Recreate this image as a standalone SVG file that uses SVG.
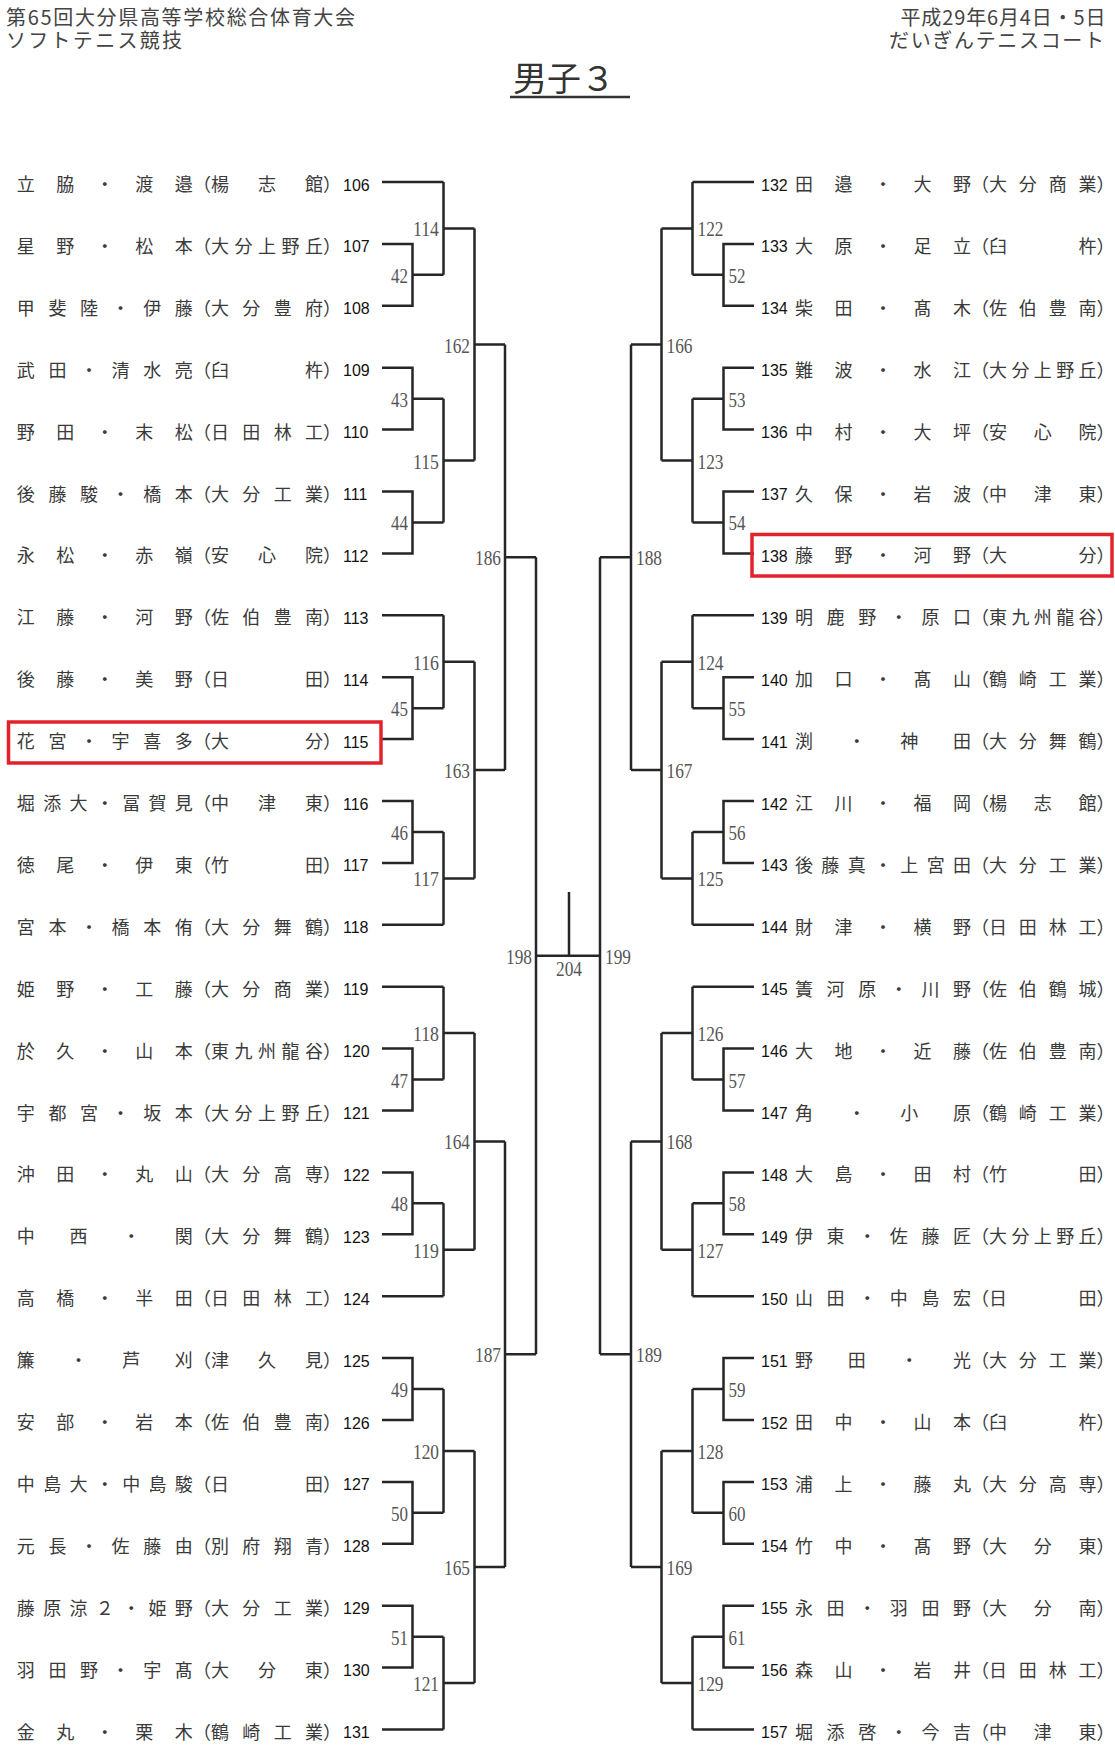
<svg xmlns="http://www.w3.org/2000/svg" width="1115" height="1751" viewBox="0 0 1115 1751">
<style>
.n{font-family:"Noto Sans CJK JP",sans-serif;font-size:18px;fill:#3a3a3a}
.s{font-family:"Liberation Sans",Arial,sans-serif;font-size:16px;fill:#111}
.l{font-family:"Liberation Serif","Times New Roman",serif;font-size:20px;fill:#555}
.le{text-anchor:end}
.h{font-family:"Noto Sans CJK JP",sans-serif;font-size:20px;fill:#444}
.c path{fill:none;stroke:#262626;stroke-width:2.5}
.box{fill:none;stroke:#e3232b;stroke-width:3.5}
</style>
<rect width="1115" height="1751" fill="#fff"/>
<g id="header">
<text class="h" x="6" y="25" textLength="349">第65回大分県高等学校総合体育大会</text>
<text class="h" x="6" y="47.5" textLength="176">ソフトテニス競技</text>
<text class="h" x="900.5" y="25" textLength="205">平成29年6月4日・5日</text>
<text class="h" x="889" y="47.5" textLength="215">だいぎんテニスコート</text>
<text class="h" x="513" y="91" style="font-size:34px;fill:#333">男子３</text>
<path d="M510 97H630" stroke="#333" stroke-width="2.5"/>
</g>
<g id="connectors" class="c">
<path d="M382 182H443.5"/>
<path d="M382 243.9H412.5V305.8H382M412.5 274.85H443.5"/>
<path d="M443.5 182V274.85M443.5 228.4H474.5"/>
<path d="M382 367.7H412.5V429.6H382M412.5 398.65H443.5"/>
<path d="M382 491.5H412.5V553.4H382M412.5 522.45H443.5"/>
<path d="M443.5 398.65V522.45M443.5 460.55H474.5"/>
<path d="M474.5 228.4V460.55M474.5 344.5H505"/>
<path d="M382 615.3H443.5"/>
<path d="M382 677.2H412.5V739.1H382M412.5 708.15H443.5"/>
<path d="M443.5 615.3V708.15M443.5 661.7H474.5"/>
<path d="M382 801H412.5V862.9H382M412.5 831.95H443.5"/>
<path d="M382 924.8H443.5"/>
<path d="M443.5 831.95V924.8M443.5 878.4H474.5"/>
<path d="M474.5 661.7V878.4M474.5 770.05H505"/>
<path d="M505 344.5V770.05M505 557.3H536"/>
<path d="M382 986.7H443.5"/>
<path d="M382 1048.6H412.5V1110.5H382M412.5 1079.55H443.5"/>
<path d="M443.5 986.7V1079.55M443.5 1033.1H474.5"/>
<path d="M382 1172.4H412.5V1234.3H382M412.5 1203.35H443.5"/>
<path d="M382 1296.2H443.5"/>
<path d="M443.5 1203.35V1296.2M443.5 1249.8H474.5"/>
<path d="M474.5 1033.1V1249.8M474.5 1141.45H505"/>
<path d="M382 1358.1H412.5V1420H382M412.5 1389.05H443.5"/>
<path d="M382 1481.9H412.5V1543.8H382M412.5 1512.85H443.5"/>
<path d="M443.5 1389.05V1512.85M443.5 1450.95H474.5"/>
<path d="M382 1605.7H412.5V1667.6H382M412.5 1636.65H443.5"/>
<path d="M382 1729.5H443.5"/>
<path d="M443.5 1636.65V1729.5M443.5 1683.1H474.5"/>
<path d="M474.5 1450.95V1683.1M474.5 1567H505"/>
<path d="M505 1141.45V1567M505 1354.2H536"/>
<path d="M536 557.3V1354.2M536 955.75H569"/>
<path d="M754 182H692.5"/>
<path d="M754 243.9H723.5V305.8H754M723.5 274.85H692.5"/>
<path d="M692.5 182V274.85M692.5 228.4H661.5"/>
<path d="M754 367.7H723.5V429.6H754M723.5 398.65H692.5"/>
<path d="M754 491.5H723.5V553.4H754M723.5 522.45H692.5"/>
<path d="M692.5 398.65V522.45M692.5 460.55H661.5"/>
<path d="M661.5 228.4V460.55M661.5 344.5H631"/>
<path d="M754 615.3H692.5"/>
<path d="M754 677.2H723.5V739.1H754M723.5 708.15H692.5"/>
<path d="M692.5 615.3V708.15M692.5 661.7H661.5"/>
<path d="M754 801H723.5V862.9H754M723.5 831.95H692.5"/>
<path d="M754 924.8H692.5"/>
<path d="M692.5 831.95V924.8M692.5 878.4H661.5"/>
<path d="M661.5 661.7V878.4M661.5 770.05H631"/>
<path d="M631 344.5V770.05M631 557.3H600"/>
<path d="M754 986.7H692.5"/>
<path d="M754 1048.6H723.5V1110.5H754M723.5 1079.55H692.5"/>
<path d="M692.5 986.7V1079.55M692.5 1033.1H661.5"/>
<path d="M754 1172.4H723.5V1234.3H754M723.5 1203.35H692.5"/>
<path d="M754 1296.2H692.5"/>
<path d="M692.5 1203.35V1296.2M692.5 1249.8H661.5"/>
<path d="M661.5 1033.1V1249.8M661.5 1141.45H631"/>
<path d="M754 1358.1H723.5V1420H754M723.5 1389.05H692.5"/>
<path d="M754 1481.9H723.5V1543.8H754M723.5 1512.85H692.5"/>
<path d="M692.5 1389.05V1512.85M692.5 1450.95H661.5"/>
<path d="M754 1605.7H723.5V1667.6H754M723.5 1636.65H692.5"/>
<path d="M754 1729.5H692.5"/>
<path d="M692.5 1636.65V1729.5M692.5 1683.1H661.5"/>
<path d="M661.5 1450.95V1683.1M661.5 1567H631"/>
<path d="M631 1141.45V1567M631 1354.2H600"/>
<path d="M600 557.3V1354.2M600 955.75H569"/>
<path d="M569 955.75V892"/>
</g>
<g id="labels">
<text class="l le" x="408" y="282.85" textLength="17" lengthAdjust="spacingAndGlyphs">42</text>
<text class="l le" x="439" y="236.4" textLength="26" lengthAdjust="spacingAndGlyphs">114</text>
<text class="l le" x="408" y="406.65" textLength="17" lengthAdjust="spacingAndGlyphs">43</text>
<text class="l le" x="408" y="530.45" textLength="17" lengthAdjust="spacingAndGlyphs">44</text>
<text class="l le" x="439" y="468.55" textLength="26" lengthAdjust="spacingAndGlyphs">115</text>
<text class="l le" x="470" y="352.5" textLength="26" lengthAdjust="spacingAndGlyphs">162</text>
<text class="l le" x="408" y="716.15" textLength="17" lengthAdjust="spacingAndGlyphs">45</text>
<text class="l le" x="439" y="669.7" textLength="26" lengthAdjust="spacingAndGlyphs">116</text>
<text class="l le" x="408" y="839.95" textLength="17" lengthAdjust="spacingAndGlyphs">46</text>
<text class="l le" x="439" y="886.4" textLength="26" lengthAdjust="spacingAndGlyphs">117</text>
<text class="l le" x="470" y="778.05" textLength="26" lengthAdjust="spacingAndGlyphs">163</text>
<text class="l le" x="501" y="565.3" textLength="26" lengthAdjust="spacingAndGlyphs">186</text>
<text class="l le" x="408" y="1087.55" textLength="17" lengthAdjust="spacingAndGlyphs">47</text>
<text class="l le" x="439" y="1041.1" textLength="26" lengthAdjust="spacingAndGlyphs">118</text>
<text class="l le" x="408" y="1211.35" textLength="17" lengthAdjust="spacingAndGlyphs">48</text>
<text class="l le" x="439" y="1257.8" textLength="26" lengthAdjust="spacingAndGlyphs">119</text>
<text class="l le" x="470" y="1149.45" textLength="26" lengthAdjust="spacingAndGlyphs">164</text>
<text class="l le" x="408" y="1397.05" textLength="17" lengthAdjust="spacingAndGlyphs">49</text>
<text class="l le" x="408" y="1520.85" textLength="17" lengthAdjust="spacingAndGlyphs">50</text>
<text class="l le" x="439" y="1458.95" textLength="26" lengthAdjust="spacingAndGlyphs">120</text>
<text class="l le" x="408" y="1644.65" textLength="17" lengthAdjust="spacingAndGlyphs">51</text>
<text class="l le" x="439" y="1691.1" textLength="26" lengthAdjust="spacingAndGlyphs">121</text>
<text class="l le" x="470" y="1575" textLength="26" lengthAdjust="spacingAndGlyphs">165</text>
<text class="l le" x="501" y="1362.2" textLength="26" lengthAdjust="spacingAndGlyphs">187</text>
<text class="l le" x="532" y="963.75" textLength="26" lengthAdjust="spacingAndGlyphs">198</text>
<text class="l" x="728.5" y="282.85" textLength="17" lengthAdjust="spacingAndGlyphs">52</text>
<text class="l" x="697.5" y="236.4" textLength="26" lengthAdjust="spacingAndGlyphs">122</text>
<text class="l" x="728.5" y="406.65" textLength="17" lengthAdjust="spacingAndGlyphs">53</text>
<text class="l" x="728.5" y="530.45" textLength="17" lengthAdjust="spacingAndGlyphs">54</text>
<text class="l" x="697.5" y="468.55" textLength="26" lengthAdjust="spacingAndGlyphs">123</text>
<text class="l" x="666.5" y="352.5" textLength="26" lengthAdjust="spacingAndGlyphs">166</text>
<text class="l" x="728.5" y="716.15" textLength="17" lengthAdjust="spacingAndGlyphs">55</text>
<text class="l" x="697.5" y="669.7" textLength="26" lengthAdjust="spacingAndGlyphs">124</text>
<text class="l" x="728.5" y="839.95" textLength="17" lengthAdjust="spacingAndGlyphs">56</text>
<text class="l" x="697.5" y="886.4" textLength="26" lengthAdjust="spacingAndGlyphs">125</text>
<text class="l" x="666.5" y="778.05" textLength="26" lengthAdjust="spacingAndGlyphs">167</text>
<text class="l" x="636" y="565.3" textLength="26" lengthAdjust="spacingAndGlyphs">188</text>
<text class="l" x="728.5" y="1087.55" textLength="17" lengthAdjust="spacingAndGlyphs">57</text>
<text class="l" x="697.5" y="1041.1" textLength="26" lengthAdjust="spacingAndGlyphs">126</text>
<text class="l" x="728.5" y="1211.35" textLength="17" lengthAdjust="spacingAndGlyphs">58</text>
<text class="l" x="697.5" y="1257.8" textLength="26" lengthAdjust="spacingAndGlyphs">127</text>
<text class="l" x="666.5" y="1149.45" textLength="26" lengthAdjust="spacingAndGlyphs">168</text>
<text class="l" x="728.5" y="1397.05" textLength="17" lengthAdjust="spacingAndGlyphs">59</text>
<text class="l" x="728.5" y="1520.85" textLength="17" lengthAdjust="spacingAndGlyphs">60</text>
<text class="l" x="697.5" y="1458.95" textLength="26" lengthAdjust="spacingAndGlyphs">128</text>
<text class="l" x="728.5" y="1644.65" textLength="17" lengthAdjust="spacingAndGlyphs">61</text>
<text class="l" x="697.5" y="1691.1" textLength="26" lengthAdjust="spacingAndGlyphs">129</text>
<text class="l" x="666.5" y="1575" textLength="26" lengthAdjust="spacingAndGlyphs">169</text>
<text class="l" x="636" y="1362.2" textLength="26" lengthAdjust="spacingAndGlyphs">189</text>
<text class="l" x="605" y="963.75" textLength="26" lengthAdjust="spacingAndGlyphs">199</text>
<text class="l" x="556" y="976" textLength="26" lengthAdjust="spacingAndGlyphs">204</text>
</g>
<g id="p106" transform="translate(0,191)"><text class="n" x="16.8" textLength="176">立脇・渡邉</text><text class="n" x="193">（</text><text class="n" x="211" textLength="112">楊志館</text><text class="n" x="323">）</text><text class="s" x="343" y="-0.5">106</text></g>
<g id="p107" transform="translate(0,252.9)"><text class="n" x="16.8" textLength="176">星野・松本</text><text class="n" x="193">（</text><text class="n" x="211" textLength="112">大分上野丘</text><text class="n" x="323">）</text><text class="s" x="343" y="-0.5">107</text></g>
<g id="p108" transform="translate(0,314.8)"><text class="n" x="16.8" textLength="176">甲斐陸・伊藤</text><text class="n" x="193">（</text><text class="n" x="211" textLength="112">大分豊府</text><text class="n" x="323">）</text><text class="s" x="343" y="-0.5">108</text></g>
<g id="p109" transform="translate(0,376.7)"><text class="n" x="16.8" textLength="176">武田・清水亮</text><text class="n" x="193">（</text><text class="n" x="211" textLength="112">臼杵</text><text class="n" x="323">）</text><text class="s" x="343" y="-0.5">109</text></g>
<g id="p110" transform="translate(0,438.6)"><text class="n" x="16.8" textLength="176">野田・末松</text><text class="n" x="193">（</text><text class="n" x="211" textLength="112">日田林工</text><text class="n" x="323">）</text><text class="s" x="343" y="-0.5">110</text></g>
<g id="p111" transform="translate(0,500.5)"><text class="n" x="16.8" textLength="176">後藤駿・橋本</text><text class="n" x="193">（</text><text class="n" x="211" textLength="112">大分工業</text><text class="n" x="323">）</text><text class="s" x="343" y="-0.5">111</text></g>
<g id="p112" transform="translate(0,562.4)"><text class="n" x="16.8" textLength="176">永松・赤嶺</text><text class="n" x="193">（</text><text class="n" x="211" textLength="112">安心院</text><text class="n" x="323">）</text><text class="s" x="343" y="-0.5">112</text></g>
<g id="p113" transform="translate(0,624.3)"><text class="n" x="16.8" textLength="176">江藤・河野</text><text class="n" x="193">（</text><text class="n" x="211" textLength="112">佐伯豊南</text><text class="n" x="323">）</text><text class="s" x="343" y="-0.5">113</text></g>
<g id="p114" transform="translate(0,686.2)"><text class="n" x="16.8" textLength="176">後藤・美野</text><text class="n" x="193">（</text><text class="n" x="211" textLength="112">日田</text><text class="n" x="323">）</text><text class="s" x="343" y="-0.5">114</text></g>
<g id="p115" transform="translate(0,748.1)"><text class="n" x="16.8" textLength="176">花宮・宇喜多</text><text class="n" x="193">（</text><text class="n" x="211" textLength="112">大分</text><text class="n" x="323">）</text><text class="s" x="343" y="-0.5">115</text></g>
<g id="p116" transform="translate(0,810)"><text class="n" x="16.8" textLength="176">堀添大・冨賀見</text><text class="n" x="193">（</text><text class="n" x="211" textLength="112">中津東</text><text class="n" x="323">）</text><text class="s" x="343" y="-0.5">116</text></g>
<g id="p117" transform="translate(0,871.9)"><text class="n" x="16.8" textLength="176">徳尾・伊東</text><text class="n" x="193">（</text><text class="n" x="211" textLength="112">竹田</text><text class="n" x="323">）</text><text class="s" x="343" y="-0.5">117</text></g>
<g id="p118" transform="translate(0,933.8)"><text class="n" x="16.8" textLength="176">宮本・橋本侑</text><text class="n" x="193">（</text><text class="n" x="211" textLength="112">大分舞鶴</text><text class="n" x="323">）</text><text class="s" x="343" y="-0.5">118</text></g>
<g id="p119" transform="translate(0,995.7)"><text class="n" x="16.8" textLength="176">姫野・工藤</text><text class="n" x="193">（</text><text class="n" x="211" textLength="112">大分商業</text><text class="n" x="323">）</text><text class="s" x="343" y="-0.5">119</text></g>
<g id="p120" transform="translate(0,1057.6)"><text class="n" x="16.8" textLength="176">於久・山本</text><text class="n" x="193">（</text><text class="n" x="211" textLength="112">東九州龍谷</text><text class="n" x="323">）</text><text class="s" x="343" y="-0.5">120</text></g>
<g id="p121" transform="translate(0,1119.5)"><text class="n" x="16.8" textLength="176">宇都宮・坂本</text><text class="n" x="193">（</text><text class="n" x="211" textLength="112">大分上野丘</text><text class="n" x="323">）</text><text class="s" x="343" y="-0.5">121</text></g>
<g id="p122" transform="translate(0,1181.4)"><text class="n" x="16.8" textLength="176">沖田・丸山</text><text class="n" x="193">（</text><text class="n" x="211" textLength="112">大分高専</text><text class="n" x="323">）</text><text class="s" x="343" y="-0.5">122</text></g>
<g id="p123" transform="translate(0,1243.3)"><text class="n" x="16.8" textLength="176">中西・関</text><text class="n" x="193">（</text><text class="n" x="211" textLength="112">大分舞鶴</text><text class="n" x="323">）</text><text class="s" x="343" y="-0.5">123</text></g>
<g id="p124" transform="translate(0,1305.2)"><text class="n" x="16.8" textLength="176">高橋・半田</text><text class="n" x="193">（</text><text class="n" x="211" textLength="112">日田林工</text><text class="n" x="323">）</text><text class="s" x="343" y="-0.5">124</text></g>
<g id="p125" transform="translate(0,1367.1)"><text class="n" x="16.8" textLength="176">簾・芦刈</text><text class="n" x="193">（</text><text class="n" x="211" textLength="112">津久見</text><text class="n" x="323">）</text><text class="s" x="343" y="-0.5">125</text></g>
<g id="p126" transform="translate(0,1429)"><text class="n" x="16.8" textLength="176">安部・岩本</text><text class="n" x="193">（</text><text class="n" x="211" textLength="112">佐伯豊南</text><text class="n" x="323">）</text><text class="s" x="343" y="-0.5">126</text></g>
<g id="p127" transform="translate(0,1490.9)"><text class="n" x="16.8" textLength="176">中島大・中島駿</text><text class="n" x="193">（</text><text class="n" x="211" textLength="112">日田</text><text class="n" x="323">）</text><text class="s" x="343" y="-0.5">127</text></g>
<g id="p128" transform="translate(0,1552.8)"><text class="n" x="16.8" textLength="176">元長・佐藤由</text><text class="n" x="193">（</text><text class="n" x="211" textLength="112">別府翔青</text><text class="n" x="323">）</text><text class="s" x="343" y="-0.5">128</text></g>
<g id="p129" transform="translate(0,1614.7)"><text class="n" x="16.8" textLength="176">藤原涼２・姫野</text><text class="n" x="193">（</text><text class="n" x="211" textLength="112">大分工業</text><text class="n" x="323">）</text><text class="s" x="343" y="-0.5">129</text></g>
<g id="p130" transform="translate(0,1676.6)"><text class="n" x="16.8" textLength="176">羽田野・宇髙</text><text class="n" x="193">（</text><text class="n" x="211" textLength="112">大分東</text><text class="n" x="323">）</text><text class="s" x="343" y="-0.5">130</text></g>
<g id="p131" transform="translate(0,1738.5)"><text class="n" x="16.8" textLength="176">金丸・栗木</text><text class="n" x="193">（</text><text class="n" x="211" textLength="112">鶴崎工業</text><text class="n" x="323">）</text><text class="s" x="343" y="-0.5">131</text></g>
<g id="p132" transform="translate(0,191)"><text class="s" x="761" y="-0.5">132</text><text class="n" x="795" textLength="176">田邉・大野</text><text class="n" x="971">（</text><text class="n" x="989" textLength="107.5">大分商業</text><text class="n" x="1096.5">）</text></g>
<g id="p133" transform="translate(0,252.9)"><text class="s" x="761" y="-0.5">133</text><text class="n" x="795" textLength="176">大原・足立</text><text class="n" x="971">（</text><text class="n" x="989" textLength="107.5">臼杵</text><text class="n" x="1096.5">）</text></g>
<g id="p134" transform="translate(0,314.8)"><text class="s" x="761" y="-0.5">134</text><text class="n" x="795" textLength="176">柴田・髙木</text><text class="n" x="971">（</text><text class="n" x="989" textLength="107.5">佐伯豊南</text><text class="n" x="1096.5">）</text></g>
<g id="p135" transform="translate(0,376.7)"><text class="s" x="761" y="-0.5">135</text><text class="n" x="795" textLength="176">難波・水江</text><text class="n" x="971">（</text><text class="n" x="989" textLength="107.5">大分上野丘</text><text class="n" x="1096.5">）</text></g>
<g id="p136" transform="translate(0,438.6)"><text class="s" x="761" y="-0.5">136</text><text class="n" x="795" textLength="176">中村・大坪</text><text class="n" x="971">（</text><text class="n" x="989" textLength="107.5">安心院</text><text class="n" x="1096.5">）</text></g>
<g id="p137" transform="translate(0,500.5)"><text class="s" x="761" y="-0.5">137</text><text class="n" x="795" textLength="176">久保・岩波</text><text class="n" x="971">（</text><text class="n" x="989" textLength="107.5">中津東</text><text class="n" x="1096.5">）</text></g>
<g id="p138" transform="translate(0,562.4)"><text class="s" x="761" y="-0.5">138</text><text class="n" x="795" textLength="176">藤野・河野</text><text class="n" x="971">（</text><text class="n" x="989" textLength="107.5">大分</text><text class="n" x="1096.5">）</text></g>
<g id="p139" transform="translate(0,624.3)"><text class="s" x="761" y="-0.5">139</text><text class="n" x="795" textLength="176">明鹿野・原口</text><text class="n" x="971">（</text><text class="n" x="989" textLength="107.5">東九州龍谷</text><text class="n" x="1096.5">）</text></g>
<g id="p140" transform="translate(0,686.2)"><text class="s" x="761" y="-0.5">140</text><text class="n" x="795" textLength="176">加口・髙山</text><text class="n" x="971">（</text><text class="n" x="989" textLength="107.5">鶴崎工業</text><text class="n" x="1096.5">）</text></g>
<g id="p141" transform="translate(0,748.1)"><text class="s" x="761" y="-0.5">141</text><text class="n" x="795" textLength="176">渕・神田</text><text class="n" x="971">（</text><text class="n" x="989" textLength="107.5">大分舞鶴</text><text class="n" x="1096.5">）</text></g>
<g id="p142" transform="translate(0,810)"><text class="s" x="761" y="-0.5">142</text><text class="n" x="795" textLength="176">江川・福岡</text><text class="n" x="971">（</text><text class="n" x="989" textLength="107.5">楊志館</text><text class="n" x="1096.5">）</text></g>
<g id="p143" transform="translate(0,871.9)"><text class="s" x="761" y="-0.5">143</text><text class="n" x="795" textLength="176">後藤真・上宮田</text><text class="n" x="971">（</text><text class="n" x="989" textLength="107.5">大分工業</text><text class="n" x="1096.5">）</text></g>
<g id="p144" transform="translate(0,933.8)"><text class="s" x="761" y="-0.5">144</text><text class="n" x="795" textLength="176">財津・横野</text><text class="n" x="971">（</text><text class="n" x="989" textLength="107.5">日田林工</text><text class="n" x="1096.5">）</text></g>
<g id="p145" transform="translate(0,995.7)"><text class="s" x="761" y="-0.5">145</text><text class="n" x="795" textLength="176">簀河原・川野</text><text class="n" x="971">（</text><text class="n" x="989" textLength="107.5">佐伯鶴城</text><text class="n" x="1096.5">）</text></g>
<g id="p146" transform="translate(0,1057.6)"><text class="s" x="761" y="-0.5">146</text><text class="n" x="795" textLength="176">大地・近藤</text><text class="n" x="971">（</text><text class="n" x="989" textLength="107.5">佐伯豊南</text><text class="n" x="1096.5">）</text></g>
<g id="p147" transform="translate(0,1119.5)"><text class="s" x="761" y="-0.5">147</text><text class="n" x="795" textLength="176">角・小原</text><text class="n" x="971">（</text><text class="n" x="989" textLength="107.5">鶴崎工業</text><text class="n" x="1096.5">）</text></g>
<g id="p148" transform="translate(0,1181.4)"><text class="s" x="761" y="-0.5">148</text><text class="n" x="795" textLength="176">大島・田村</text><text class="n" x="971">（</text><text class="n" x="989" textLength="107.5">竹田</text><text class="n" x="1096.5">）</text></g>
<g id="p149" transform="translate(0,1243.3)"><text class="s" x="761" y="-0.5">149</text><text class="n" x="795" textLength="176">伊東・佐藤匠</text><text class="n" x="971">（</text><text class="n" x="989" textLength="107.5">大分上野丘</text><text class="n" x="1096.5">）</text></g>
<g id="p150" transform="translate(0,1305.2)"><text class="s" x="761" y="-0.5">150</text><text class="n" x="795" textLength="176">山田・中島宏</text><text class="n" x="971">（</text><text class="n" x="989" textLength="107.5">日田</text><text class="n" x="1096.5">）</text></g>
<g id="p151" transform="translate(0,1367.1)"><text class="s" x="761" y="-0.5">151</text><text class="n" x="795" textLength="176">野田・光</text><text class="n" x="971">（</text><text class="n" x="989" textLength="107.5">大分工業</text><text class="n" x="1096.5">）</text></g>
<g id="p152" transform="translate(0,1429)"><text class="s" x="761" y="-0.5">152</text><text class="n" x="795" textLength="176">田中・山本</text><text class="n" x="971">（</text><text class="n" x="989" textLength="107.5">臼杵</text><text class="n" x="1096.5">）</text></g>
<g id="p153" transform="translate(0,1490.9)"><text class="s" x="761" y="-0.5">153</text><text class="n" x="795" textLength="176">浦上・藤丸</text><text class="n" x="971">（</text><text class="n" x="989" textLength="107.5">大分高専</text><text class="n" x="1096.5">）</text></g>
<g id="p154" transform="translate(0,1552.8)"><text class="s" x="761" y="-0.5">154</text><text class="n" x="795" textLength="176">竹中・髙野</text><text class="n" x="971">（</text><text class="n" x="989" textLength="107.5">大分東</text><text class="n" x="1096.5">）</text></g>
<g id="p155" transform="translate(0,1614.7)"><text class="s" x="761" y="-0.5">155</text><text class="n" x="795" textLength="176">永田・羽田野</text><text class="n" x="971">（</text><text class="n" x="989" textLength="107.5">大分南</text><text class="n" x="1096.5">）</text></g>
<g id="p156" transform="translate(0,1676.6)"><text class="s" x="761" y="-0.5">156</text><text class="n" x="795" textLength="176">森山・岩井</text><text class="n" x="971">（</text><text class="n" x="989" textLength="107.5">日田林工</text><text class="n" x="1096.5">）</text></g>
<g id="p157" transform="translate(0,1738.5)"><text class="s" x="761" y="-0.5">157</text><text class="n" x="795" textLength="176">堀添啓・今吉</text><text class="n" x="971">（</text><text class="n" x="989" textLength="107.5">中津東</text><text class="n" x="1096.5">）</text></g>
<g id="highlights">
<rect class="box" x="8.5" y="722" width="372.5" height="41"/>
<rect class="box" x="752" y="534.5" width="360" height="41.5"/>
</g>
</svg>
